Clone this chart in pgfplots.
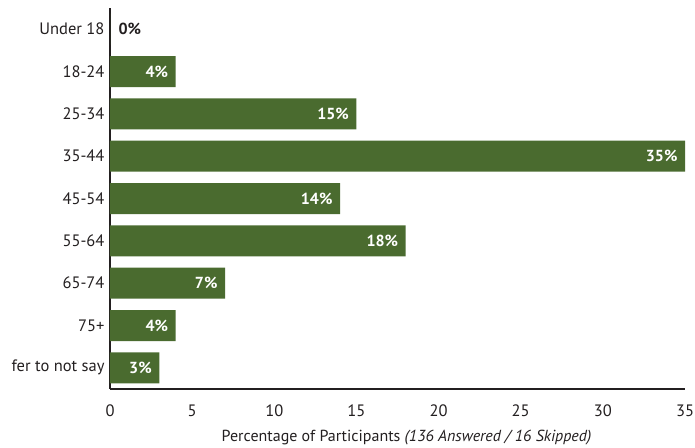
\documentclass[border=0pt]{standalone}
\usepackage{pgfplots}
\pgfplotsset{compat=1.18}
\usepackage{fontspec}
\setmainfont{PT Sans}
\definecolor{barg}{HTML}{4A6B2F}
\definecolor{txt}{HTML}{231F20}
\begin{document}
\begin{tikzpicture}
\begin{axis}[
  xbar, bar shift=0pt,
  scale only axis,
  width=575pt, height=381pt,
  xmin=0, xmax=35,
  ymin=-0.5, ymax=8.5,
  y dir=reverse,
  ytick={0,...,8},
  yticklabels={Under 18,18-24,25-34,35-44,45-54,55-64,65-74,75+,fer to not say},
  xtick={0,5,...,35},
  axis x line*=bottom, axis y line*=left,
  axis line style={txt, line width=1.3pt, -},
  major tick length=0pt,
  tick label style={font=\fontsize{16.5}{18}\selectfont, text=txt},
  /pgf/number format/assume math mode=true,
  xticklabel style={yshift=-12pt},
  yticklabel style={xshift=-2pt},
  xlabel={Percentage of Participants \textit{(136 Answered / 16 Skipped)}},
  xlabel style={font=\fontsize{16}{18}\selectfont, text=txt, yshift=-7pt, xshift=9pt},
  bar width=31pt,
  point meta=x,
]
\addplot[fill=barg, draw=none,
  nodes near coords={\pgfmathprintnumber{\pgfplotspointmeta}\%},
  nodes near coords style={anchor=east, xshift=-4pt, text=white, font=\bfseries\fontsize{16}{18}\selectfont}]
  coordinates {(4,1) (15,2) (35,3) (14,4) (18,5) (7,6) (4,7) (3,8)};
\addplot[fill=barg, draw=none,
  nodes near coords={\pgfmathprintnumber{\pgfplotspointmeta}\%},
  nodes near coords style={anchor=west, xshift=5pt, text=txt, font=\bfseries\fontsize{16}{18}\selectfont}]
  coordinates {(0,0)};
\end{axis}
\pgfresetboundingbox
\path[use as bounding box] ([xshift=-110pt,yshift=8pt]current axis.north west) rectangle ([xshift=10pt,yshift=-59pt]current axis.south east);
\end{tikzpicture}
\end{document}
